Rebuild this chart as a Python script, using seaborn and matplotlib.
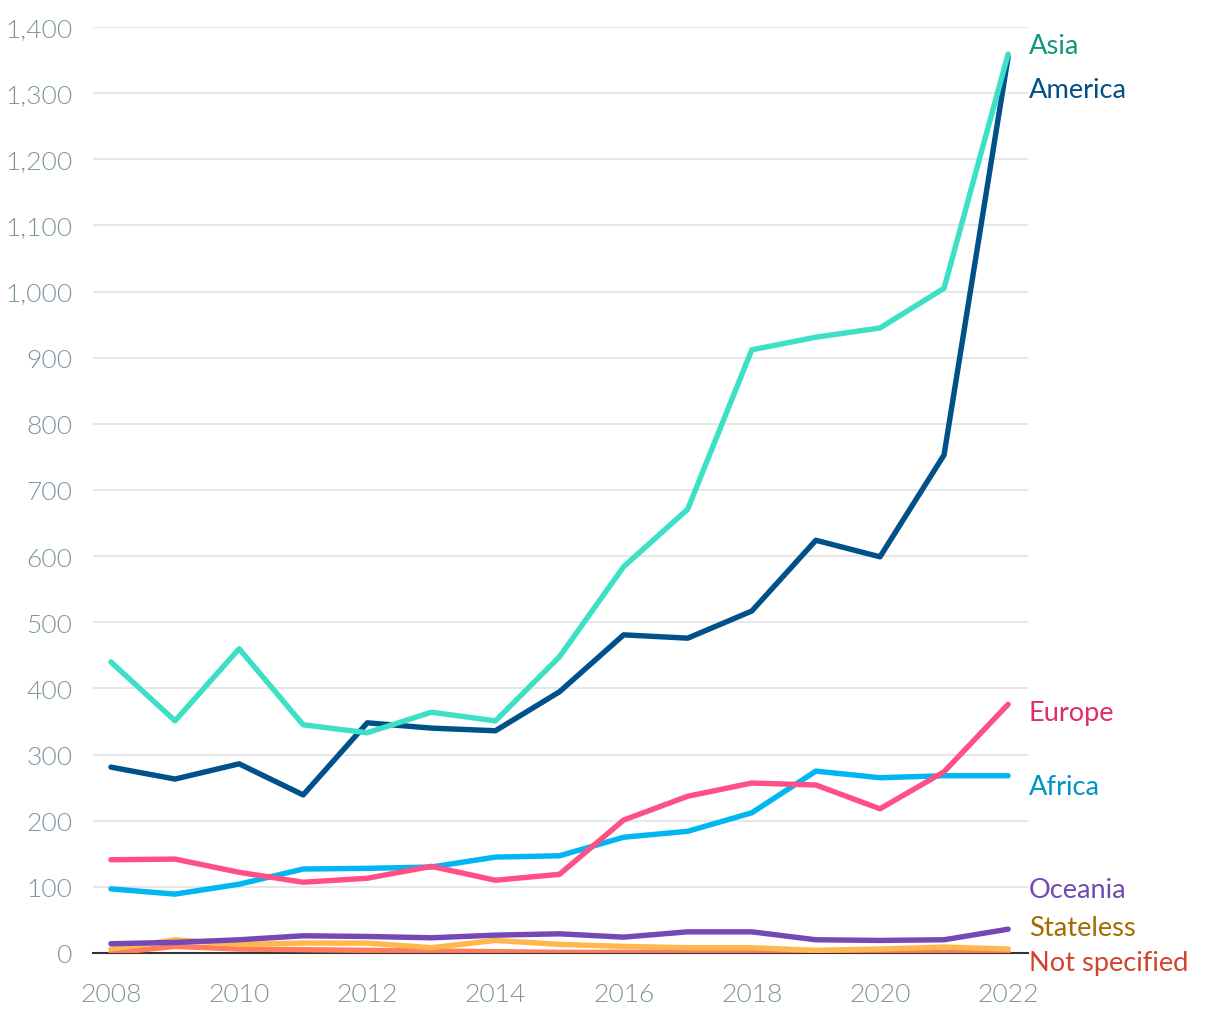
import matplotlib
matplotlib.use("Agg")
import matplotlib.pyplot as plt
import seaborn as sns
import pandas as pd

years = list(range(2008, 2023))
asia = [440, 351, 460, 345, 333, 364, 351, 448, 584, 671, 912, 931, 945, 1005, 1359]
america = [281, 263, 286, 239, 348, 340, 336, 395, 481, 476, 517, 624, 599, 753, 1355]
europe = [141, 142, 122, 107, 113, 131, 110, 119, 201, 237, 257, 254, 218, 274, 376]
africa = [97, 89, 104, 127, 128, 130, 145, 147, 175, 184, 212, 275, 265, 268, 268]
oceania = [14, 16, 20, 26, 25, 23, 27, 29, 24, 32, 32, 20, 19, 20, 36]
stateless = [6, 20, 13, 15, 15, 8, 19, 13, 10, 8, 8, 4, 6, 9, 6]
not_specified = [0, 10, 6, 5, 4, 3, 2, 1, 1, 1, 3, 1, 1, 1, 1]

series_names = ["Not specified", "Stateless", "Oceania", "Africa", "Europe", "America", "Asia"]
series_values = [not_specified, stateless, oceania, africa, europe, america, asia]
line_colors = ["#ff7c5c", "#ffb84d", "#7549b3", "#00b7f1", "#ff4f87", "#005189", "#3ce0c4"]
label_colors = ["#d1442b", "#a66b00", "#7549b3", "#0094c6", "#de2c6c", "#005189", "#13967a"]
label_y = [-15, 39, 96, 252, 364, 1306, 1372]

rows = []
for name, vals in zip(series_names, series_values):
    for y, v in zip(years, vals):
        rows.append({"year": y, "value": v, "region": name})
df = pd.DataFrame(rows)

sns.set_theme(style="white")
plt.rcParams["font.family"] = ["Lato", "DejaVu Sans"]

fig = plt.figure(figsize=(12.2, 10.2), dpi=100)
ax = fig.add_axes([93 / 1220, 1 - 954 / 1020, (1028 - 93) / 1220, (954 - 28) / 1020])

palette = dict(zip(series_names, line_colors))
sns.lineplot(data=df, x="year", y="value", hue="region", hue_order=series_names,
             palette=palette, linewidth=3.9, legend=False, ax=ax, zorder=3)
for line in ax.get_lines():
    line.set_solid_capstyle("round")
    line.set_solid_joinstyle("round")

ax.set_xlim(2007.72, 2022.31)
ax.set_ylim(0, 1400)
ax.set_yticks(range(0, 1401, 100))
ax.set_yticklabels([f"{v:,}" for v in range(0, 1401, 100)])
ax.set_xticks(range(2008, 2023, 2))
ax.grid(axis="y", color="#e3e3e3", linewidth=1.2)
ax.grid(axis="x", visible=False)
ax.set_axisbelow(True)
for s in ["top", "right", "left"]:
    ax.spines[s].set_visible(False)
ax.spines["bottom"].set_color("#333333")
ax.spines["bottom"].set_linewidth(1.5)
ax.spines["bottom"].set_zorder(2)
ax.tick_params(axis="x", direction="out", length=9, width=1.5, color="#333333",
               labelsize=19, labelcolor="#7f959e", pad=12)
ax.tick_params(axis="y", length=0, labelsize=19, labelcolor="#7f959e", pad=15)
for lab in ax.get_xticklabels() + ax.get_yticklabels():
    lab.set_fontweight(300)
ax.set_xlabel("")
ax.set_ylabel("")

for name, col, ly in zip(series_names, label_colors, label_y):
    ax.text(2022.32, ly, name, color=col, fontsize=19.6, va="center", ha="left",
            clip_on=False)

fig.savefig("out.png", dpi=100, facecolor="white")
